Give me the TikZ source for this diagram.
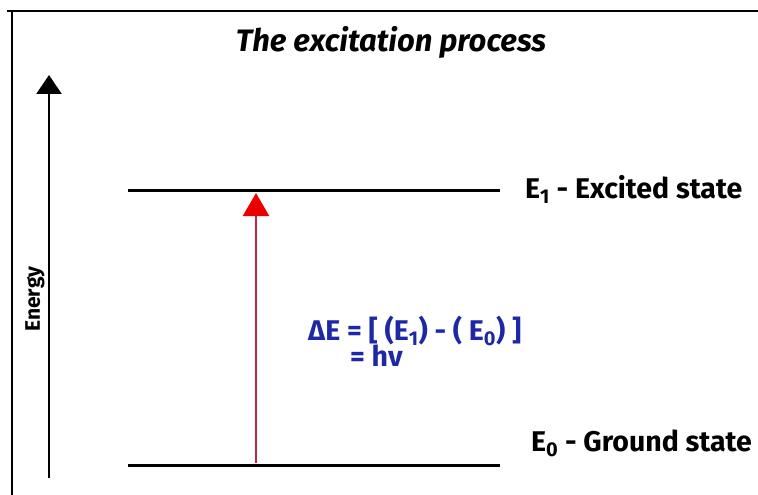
\documentclass[tikz,border=0pt]{standalone}
\usepackage{fontspec}
\setmainfont{Fira Sans}
\usetikzlibrary{arrows.meta, positioning}
\definecolor{deltablue}{RGB}{30,40,165}
\definecolor{headred}{RGB}{235,0,0}
\definecolor{shaftred}{RGB}{190,40,55}

\begin{document}
\begin{tikzpicture}[
    x=1pt, y=-1pt,
    level/.style={line width=3pt},
    statelabel/.style={anchor=west, inner sep=0pt, font=\fontsize{28.5}{33}\selectfont\bfseries},
    deltalabel/.style={anchor=west, inner sep=0pt, text=deltablue, font=\fontsize{28.5}{33}\selectfont\bfseries}
]
    \useasboundingbox (0,0) rectangle (758,495);

    % frame
    \draw[line width=2.5pt] (7,11) -- (758,11);
    \draw[line width=2.5pt] (12,11) -- (12,495);

    % title
    \node[font=\fontsize{31}{35}\selectfont\bfseries\itshape] (title) at (391,42) {The excitation process};

    % energy axis
    \coordinate (axisbot) at (49,478);
    \coordinate (axistop) at (49,75);
    \draw[line width=2.5pt, -{Triangle[length=19pt, width=25pt]}] (axisbot) -- (axistop);
    \node[rotate=90, font=\fontsize{21}{24}\selectfont\bfseries] (energy) at (35,299) {Energy};

    % levels
    \coordinate (e1left) at (128,190);
    \coordinate (e1right) at (500,190);
    \coordinate (e0left) at (128,465);
    \coordinate (e0right) at (500,465);
    \draw[level] (e1left) -- (e1right);
    \draw[level] (e0left) -- (e0right);
    \node[statelabel] (e1lab) at (525,189) {E\textsubscript{1} - Excited state};
    \node[statelabel] (e0lab) at (531,443) {E\textsubscript{0} - Ground state};

    % transition
    \coordinate (jumpbot) at (256,463);
    \coordinate (jumptop) at (256,193);
    \draw[shaftred, line width=2.5pt, -{Triangle[length=23pt, width=26pt, fill=headred, color=headred]}] (jumpbot) -- (jumptop);
    \node[deltalabel] (delta) at (308,331) {ΔE = [ (E\textsubscript{1}) - ( E\textsubscript{0}) ]};
    \node[deltalabel] (hv) at (350,356) {= hv};
\end{tikzpicture}
\end{document}
